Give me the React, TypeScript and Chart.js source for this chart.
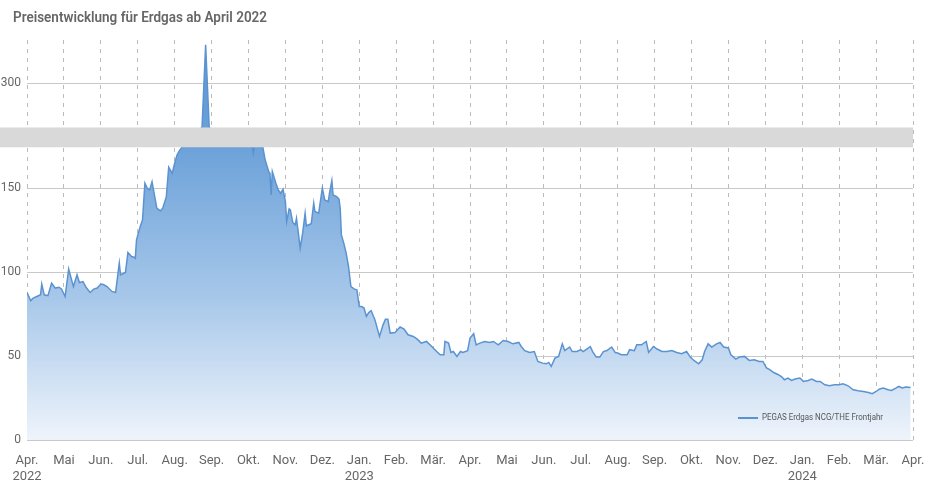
import React, { useEffect, useRef } from 'react';
import { Chart, registerables } from 'chart.js';

Chart.register(...registerables);

const chartTitle = 'Preisentwicklung für Erdgas ab April 2022';
const seriesName = 'PEGAS Erdgas NCG/THE Frontjahr';

const monthLabels = ['Apr.', 'Mai', 'Jun.', 'Jul.', 'Aug.', 'Sep.', 'Okt.', 'Nov.', 'Dez.', 'Jan.', 'Feb.', 'Mär.', 'Apr.', 'Mai', 'Jun.', 'Jul.', 'Aug.', 'Sep.', 'Okt.', 'Nov.', 'Dez.', 'Jan.', 'Feb.', 'Mär.', 'Apr.'];
const yearLabels = ['2022', '', '', '', '', '', '', '', '', '2023', '', '', '', '', '', '', '', '', '', '', '', '2024', '', '', ''];
const yTickValues = [0, 50, 100, 150, 300];

// axis break: values between these two are hidden behind the grey band
const breakLow = 174.4;
const breakHigh = 273.7;

const dates = [
  '2022-04-01', '2022-04-04', '2022-04-06', '2022-04-09', '2022-04-12', '2022-04-13', '2022-04-15', '2022-04-18', '2022-04-21', '2022-04-24', '2022-04-27', '2022-04-29',
  '2022-05-02', '2022-05-05', '2022-05-09', '2022-05-12', '2022-05-14', '2022-05-17', '2022-05-20', '2022-05-23', '2022-05-26', '2022-05-29',
  '2022-06-01', '2022-06-03', '2022-06-06', '2022-06-10', '2022-06-13', '2022-06-16', '2022-06-17', '2022-06-21', '2022-06-23', '2022-06-26', '2022-06-28', '2022-06-29', '2022-06-30',
  '2022-07-03', '2022-07-05', '2022-07-07', '2022-07-09', '2022-07-11', '2022-07-13', '2022-07-15', '2022-07-17', '2022-07-20', '2022-07-22', '2022-07-25', '2022-07-27', '2022-07-30',
  '2022-08-01', '2022-08-03', '2022-08-05', '2022-08-08', '2022-08-11', '2022-08-15', '2022-08-18', '2022-08-22', '2022-08-24', '2022-08-27', '2022-08-30',
  '2022-09-02', '2022-09-06', '2022-09-09', '2022-09-13', '2022-09-16', '2022-09-20', '2022-09-23', '2022-09-27', '2022-09-30',
  '2022-10-04', '2022-10-05', '2022-10-06', '2022-10-10', '2022-10-13', '2022-10-15', '2022-10-18', '2022-10-19', '2022-10-20', '2022-10-21', '2022-10-24', '2022-10-26', '2022-10-28', '2022-10-30',
  '2022-11-01', '2022-11-02', '2022-11-04', '2022-11-05', '2022-11-07', '2022-11-09', '2022-11-10', '2022-11-11', '2022-11-13', '2022-11-15', '2022-11-17', '2022-11-18', '2022-11-20', '2022-11-22', '2022-11-24', '2022-11-25', '2022-11-28', '2022-11-29',
  '2022-12-01', '2022-12-03', '2022-12-06', '2022-12-07', '2022-12-09', '2022-12-10', '2022-12-13', '2022-12-15', '2022-12-16', '2022-12-17', '2022-12-19', '2022-12-21', '2022-12-23', '2022-12-25', '2022-12-28', '2022-12-30',
  '2023-01-01', '2023-01-03', '2023-01-05', '2023-01-07', '2023-01-09', '2023-01-11', '2023-01-13', '2023-01-14', '2023-01-18', '2023-01-21', '2023-01-23', '2023-01-25', '2023-01-27', '2023-01-31',
  '2023-02-04', '2023-02-07', '2023-02-10', '2023-02-14', '2023-02-17', '2023-02-20', '2023-02-24', '2023-02-28',
  '2023-03-04', '2023-03-07', '2023-03-10', '2023-03-11', '2023-03-14', '2023-03-16', '2023-03-18', '2023-03-21', '2023-03-24', '2023-03-26', '2023-03-30',
  '2023-04-01', '2023-04-04', '2023-04-06', '2023-04-09', '2023-04-13', '2023-04-17', '2023-04-20', '2023-04-24', '2023-04-28',
  '2023-05-02', '2023-05-06', '2023-05-11', '2023-05-13', '2023-05-16', '2023-05-20', '2023-05-24', '2023-05-27', '2023-05-31',
  '2023-06-03', '2023-06-05', '2023-06-07', '2023-06-10', '2023-06-13', '2023-06-16', '2023-06-18', '2023-06-22', '2023-06-24', '2023-06-28',
  '2023-07-01', '2023-07-03', '2023-07-06', '2023-07-09', '2023-07-11', '2023-07-14', '2023-07-17', '2023-07-20', '2023-07-23', '2023-07-27', '2023-07-30',
  '2023-08-01', '2023-08-04', '2023-08-09', '2023-08-11', '2023-08-15', '2023-08-17', '2023-08-21', '2023-08-25', '2023-08-27', '2023-08-31',
  '2023-09-03', '2023-09-07', '2023-09-11', '2023-09-15', '2023-09-19', '2023-09-23', '2023-09-27', '2023-09-30',
  '2023-10-03', '2023-10-07', '2023-10-10', '2023-10-12', '2023-10-15', '2023-10-18', '2023-10-22', '2023-10-25', '2023-10-28',
  '2023-11-01', '2023-11-03', '2023-11-07', '2023-11-10', '2023-11-14', '2023-11-18', '2023-11-22', '2023-11-26', '2023-11-29',
  '2023-12-02', '2023-12-05', '2023-12-08', '2023-12-12', '2023-12-15', '2023-12-17', '2023-12-20', '2023-12-23', '2023-12-26', '2023-12-30',
  '2024-01-02', '2024-01-06', '2024-01-09', '2024-01-13', '2024-01-16', '2024-01-20', '2024-01-24', '2024-01-28',
  '2024-02-01', '2024-02-04', '2024-02-08', '2024-02-12', '2024-02-16', '2024-02-20', '2024-02-24', '2024-02-27',
  '2024-03-01', '2024-03-04', '2024-03-07', '2024-03-11', '2024-03-14', '2024-03-18', '2024-03-20', '2024-03-23', '2024-03-26', '2024-03-30',
];

const prices = [
  87.9, 83, 84.5, 85.5, 86.5, 92.9, 86.5, 86, 93.4, 90.5, 91, 90,
  85.5, 101.8, 91.4, 98.4, 93.8, 94.4, 90.5, 87.9, 89.9, 90.5,
  92.9, 92.6, 91.4, 88.5, 87.9, 105.4, 98.4, 99.8, 111.7, 109.3, 108.9, 108.3, 119.2,
  127.1, 131.1, 153, 150, 149, 153.9, 146, 138.1, 136.5, 138.1, 145, 162.5, 158.9,
  164.9, 169.8, 172.4, 180, 195, 215, 235, 260, 274, 323, 274,
  245, 225, 210, 205, 200, 195, 200, 210, 200,
  185, 171, 185, 180, 176, 166.8, 159.9, 158.9, 146, 159.9, 153, 149, 147, 149.4,
  142, 130.1, 137.7, 137.1, 129.5, 128.2, 132.1, 126.2, 114.3, 123.2, 135.1, 127.6, 128.2, 128.8, 141.1, 136.1, 135.1, 140.1,
  150, 143, 142, 147, 154.5, 146, 145, 143.5, 138.1, 122.2, 117.3, 111.3, 103.3, 91.4, 89.9, 89.5,
  79.5, 79.5, 78.6, 73.6, 76, 77.1, 73.6, 72, 61.7, 68.6, 72, 72, 63.7, 64,
  67.3, 66.1, 62.7, 61.7, 60.1, 57.7, 58.7, 55.7,
  52.7, 50.8, 50.8, 58.7, 57.7, 52.1, 52.7, 49.8, 52.7, 52.1, 53.2,
  60.7, 63.3, 56.7, 57.7, 58.7, 58.1, 58.7, 56.7, 59.3,
  58.7, 57.3, 58.1, 55.7, 53.2, 52.1, 52.7, 46.8, 45.8,
  45.4, 46.2, 43.8, 48.8, 49.8, 57.3, 53.3, 55.4, 52.7, 52.7,
  53.8, 52.7, 54.2, 55.7, 52.7, 49.4, 49.4, 52.7, 53.3, 55.4, 52.1,
  51.8, 50.8, 50.8, 53.8, 53.2, 56.7, 56.7, 58.7, 52.2, 55.7,
  54.2, 52.7, 52.7, 53.3, 52.1, 51.4, 52.7, 49.4,
  47.4, 45.4, 47.8, 52.7, 57.3, 55.4, 57.3, 58.1, 55.4,
  54.8, 50.8, 48.2, 49.4, 49.8, 47.4, 47.8, 46.8, 46.8,
  42.9, 41.8, 40.2, 38.9, 37.5, 35.9, 36.9, 35.5, 36.3, 36.9,
  34.9, 35.5, 36.3, 34.9, 34.9, 32.9, 32.3, 32.9,
  32.9, 33.5, 32.3, 29.9, 29.3, 28.9, 28.3, 27.6,
  28.9, 30.4, 31, 29.9, 29.5, 31, 31.9, 31, 31.5, 31.3,
];

// ---- scale helpers (broken value axis, month-equal time axis) ----
const BAND = 11.8; // internal units taken by the grey break band
const SHIFT = breakHigh - (breakLow + BAND);

function toInternal(v: number): number {
  if (v <= breakLow) return v;
  if (v >= breakHigh) return v - SHIFT;
  return breakLow + ((v - breakLow) / (breakHigh - breakLow)) * BAND;
}
function fromInternal(v: number): number {
  if (v <= breakLow) return v;
  if (v >= breakLow + BAND) return v + SHIFT;
  return breakLow + ((v - breakLow) / BAND) * (breakHigh - breakLow);
}
function monthPos(d: string): number {
  const [y, m, day] = d.split('-').map(Number);
  const dim = new Date(y, m, 0).getDate();
  return (y - 2022) * 12 + (m - 4) + (day - 1) / dim;
}

const FONT = 'Roboto, "Open Sans", sans-serif';

function fitText(ctx: CanvasRenderingContext2D, text: string, x: number, y: number, maxW: number) {
  const w = ctx.measureText(text).width;
  const s = w > maxW ? maxW / w : 1;
  ctx.save();
  ctx.translate(x, y);
  ctx.scale(s, 1);
  ctx.fillText(text, 0, 0);
  ctx.restore();
}

const decorPlugin = {
  id: 'decor',
  beforeDraw(chart: any) {
    const { ctx, width, height } = chart;
    ctx.save();
    ctx.fillStyle = '#ffffff';
    ctx.fillRect(0, 0, width, height);
    ctx.restore();
  },
  afterDatasetsDraw(chart: any) {
    const { ctx, chartArea } = chart;
    const y = chart.scales.y;
    const top = y.getPixelForValue(breakLow + BAND);
    const bottom = y.getPixelForValue(breakLow);
    ctx.save();
    ctx.fillStyle = '#d9d9d9';
    ctx.fillRect(0, top, chartArea.right, bottom - top);
    ctx.restore();
  },
  afterDraw(chart: any) {
    const { ctx } = chart;
    ctx.save();
    ctx.fillStyle = '#666666';
    ctx.font = `600 15px ${FONT}`;
    ctx.textBaseline = 'alphabetic';
    fitText(ctx, chartTitle, 13, 21.5, 254);
    // legend inside plot
    ctx.strokeStyle = '#5b93d1';
    ctx.lineWidth = 2;
    ctx.beginPath();
    ctx.moveTo(738, 418);
    ctx.lineTo(758, 418);
    ctx.stroke();
    ctx.fillStyle = '#555555';
    ctx.font = `9px ${FONT}`;
    ctx.textBaseline = 'middle';
    fitText(ctx, seriesName, 762, 418, 121);
    ctx.restore();
  },
};

export default function App() {
  const ref = useRef<HTMLCanvasElement | null>(null);

  useEffect(() => {
    if (!ref.current) return;
    const points = dates.map((d, i) => ({ x: monthPos(d), y: toInternal(prices[i]) }));
    const chart = new Chart(ref.current, {
      type: 'line',
      data: {
        datasets: [
          {
            label: seriesName,
            data: points,
            borderColor: '#5b93d1',
            borderWidth: 1.5,
            pointRadius: 0,
            tension: 0,
            fill: 'origin',
            backgroundColor: (c: any) => {
              const area = c.chart.chartArea;
              if (!area) return 'rgba(91,147,209,0.5)';
              const g = c.chart.ctx.createLinearGradient(0, area.top, 0, area.bottom);
              g.addColorStop(0, '#5e96d4');
              g.addColorStop(0.27, '#6da2d9');
              g.addColorStop(0.65, '#a8c8ea');
              g.addColorStop(1, '#eef4fb');
              return g;
            },
          },
        ],
      },
      options: {
        animation: false,
        responsive: false,
        layout: { padding: { top: 40, right: 17, left: 0, bottom: 0 } },
        plugins: {
          legend: { display: false },
          title: { display: false },
          tooltip: { enabled: false },
        },
        scales: {
          x: {
            type: 'linear',
            min: 0,
            max: 24,
            afterBuildTicks: (s: any) => {
              s.ticks = monthLabels.map((_, i) => ({ value: i }));
            },
            afterFit: (s: any) => {
              s.height = 50;
              s.paddingLeft = 0;
              s.paddingRight = 0;
            },
            border: { display: false, dash: [4, 5] },
            grid: { color: '#bcbcbc', drawTicks: false, lineWidth: 1 },
            ticks: {
              autoSkip: false,
              maxRotation: 0,
              padding: 13,
              color: '#666666',
              font: { family: FONT, size: 13 },
              callback: (v: any) => {
                const i = Math.round(Number(v));
                return yearLabels[i] ? [monthLabels[i], yearLabels[i]] : monthLabels[i];
              },
            },
          },
          y: {
            type: 'linear',
            min: 0,
            max: 238.3,
            afterBuildTicks: (s: any) => {
              s.ticks = yTickValues.map((v) => ({ value: toInternal(v) }));
            },
            afterFit: (s: any) => {
              s.width = 27;
              s.paddingTop = 0;
              s.paddingBottom = 0;
            },
            border: { display: false },
            grid: { color: '#c9c9c9', drawTicks: false, lineWidth: 1 },
            ticks: {
              padding: 6,
              color: '#666666',
              font: { family: FONT, size: 12 },
              callback: (v: any) => String(Math.round(fromInternal(Number(v)))),
            },
          },
        },
      },
      plugins: [decorPlugin],
    } as any);
    return () => chart.destroy();
  }, []);

  return (
    <div style={{ position: 'fixed', left: 0, top: 0, width: 930, height: 490 }}>
      <canvas ref={ref} width={930} height={490} style={{ display: 'block', width: 930, height: 490 }} />
    </div>
  );
}
